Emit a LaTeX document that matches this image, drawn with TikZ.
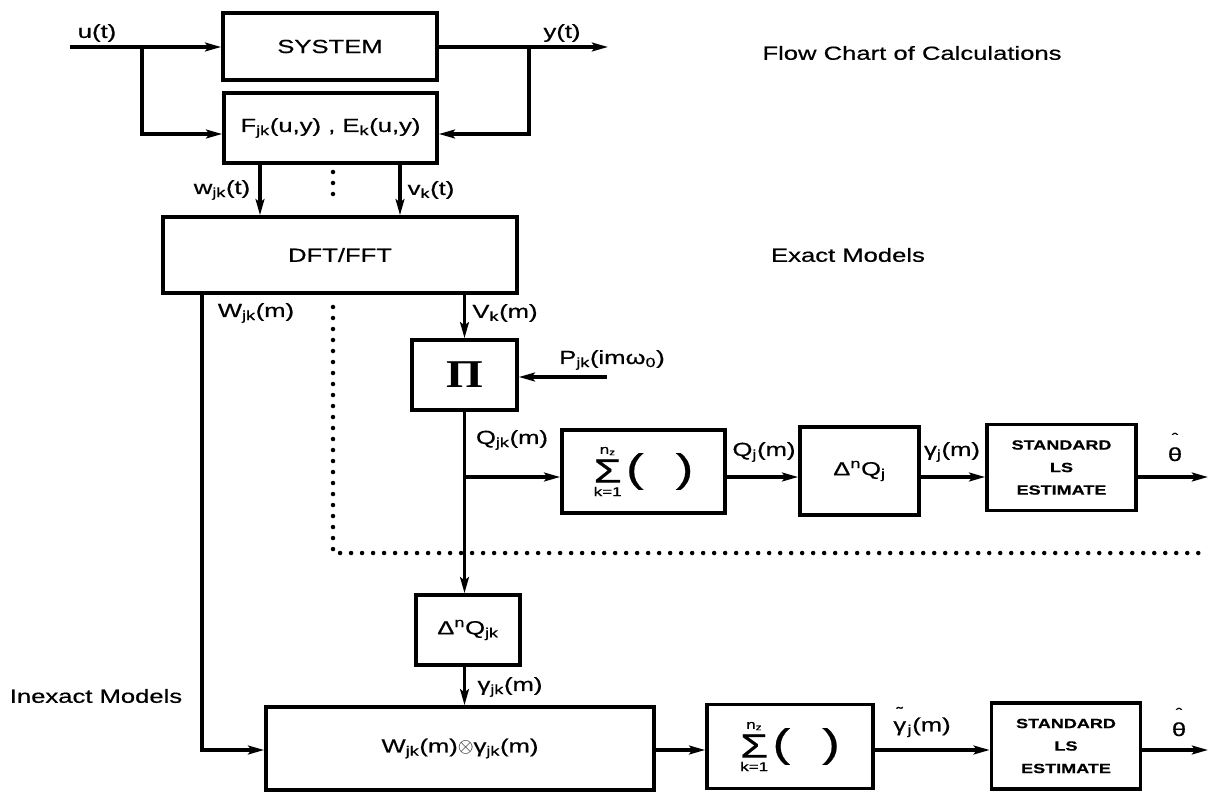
\documentclass[tikz,border=0pt]{standalone}
\usepackage{amsmath}
\usepackage{fontspec}
\setmainfont{Liberation Sans}[FakeStretch=1.35, FakeBold=0.6]
\newfontfamily\prodfont{Liberation Serif}[FakeStretch=1.2]
\usetikzlibrary{arrows.meta}

\newlength\px
\setlength\px{0.025cm}
\newcommand\sumop{$\vcenter{\hbox{\shortstack{\fontsize{9}{9}\selectfont n\textsubscript{z}\\\fontsize{24}{24}\selectfont Σ\\\fontsize{9}{9}\selectfont k=1}}}\hspace{3pt}%
  \vcenter{\hbox{\fontsize{28}{28}\selectfont(\hspace{32\px})}}$}
\newcommand\hatth{\shortstack{\fontsize{10}{10}\selectfont ˆ\\θ}}
\newcommand\tilgam{\shortstack{\fontsize{10}{10}\selectfont ˜\\γ}}

\begin{document}
\begin{tikzpicture}[x=0.025cm, y=-0.025cm,
  block/.style={draw, line width=2.6pt, inner sep=0pt, align=center, font=\fontsize{13.5}{16}\selectfont},
  lsbox/.style={block, minimum width=3.725cm, minimum height=2.15cm, font=\bfseries\fontsize{9.5}{16}\selectfont},
  lbl/.style={inner sep=0pt, font=\fontsize{13.5}{16}\selectfont},
  flow/.style={line width=2.2pt, -{Stealth[length=0.4cm, width=0.22cm, inset=0.08cm]}},
  divider/.style={line width=3.2pt, line cap=round, dash pattern=on 0pt off 0.275cm}]

% Background
\fill[white] (0,0) rectangle (1208,793);
\useasboundingbox (0,0) rectangle (1208,793);

% Titles
\node[lbl] (title) at (912,53) {Flow Chart of Calculations};
\node[lbl] (exact) at (848,255) {Exact Models};
\node[lbl] (inexact) at (96,696) {Inexact Models};

% Blocks
\node[block, minimum width=5.35cm, minimum height=1.675cm] (sys) at (330,46.5) {SYSTEM};
\node[block, minimum width=5.325cm, minimum height=1.75cm] (est) at (330.5,128) {F\textsubscript{jk}(u,y) , E\textsubscript{k}(u,y)};
\node[block, minimum width=8.85cm, minimum height=1.9cm] (dft) at (340,255) {DFT/FFT};
\node[block, minimum width=2.625cm, minimum height=1.75cm, font=\prodfont\bfseries\fontsize{28}{30}\selectfont] (prod) at (464.5,375) {Π};
\node[block, minimum width=4.075cm, minimum height=2.075cm] (sumA) at (643.5,471.5) {\sumop};
\node[block, minimum width=2.975cm, minimum height=2.2cm] (dqj) at (859.5,471) {Δ\textsuperscript{n}Q\textsubscript{j}};
\node[lsbox] (lsA) at (1061.5,467.5) {STANDARD\\LS\\ESTIMATE};
\node[block, minimum width=2.6cm, minimum height=1.75cm] (dqjk) at (468,630) {Δ\textsuperscript{n}Q\textsubscript{jk}};
\node[block, minimum width=9.7cm, minimum height=2.075cm] (conv) at (460,748.5) {W\textsubscript{jk}(m)$\otimes$γ\textsubscript{jk}(m)};
\node[block, minimum width=4.15cm, minimum height=2.1cm] (sumB) at (790,746.5) {\sumop};
\node[lsbox] (lsB) at (1066,746) {STANDARD\\LS\\ESTIMATE};

% Signal labels
\node[lbl] (ulab) at (97,33) {u(t)};
\node[lbl] (ylab) at (562,33) {y(t)};
\node[lbl] (wlab) at (222,190) {w\textsubscript{jk}(t)};
\node[lbl] (vlab) at (431,190) {v\textsubscript{k}(t)};
\node[lbl] (Wlab) at (256,313) {W\textsubscript{jk}(m)};
\node[lbl] (Vlab) at (505,313) {V\textsubscript{k}(m)};
\node[lbl] (Plab) at (612,360) {P\textsubscript{jk}(imω\textsubscript{0})};
\node[lbl] (Qlab) at (512,440) {Q\textsubscript{jk}(m)};
\node[lbl] (Qjlab) at (764,452) {Q\textsubscript{j}(m)};
\node[lbl] (gjlab) at (952,452) {γ\textsubscript{j}(m)};
\node[lbl] (thA) at (1175,447) {\hatth};
\node[lbl] (gjklab) at (510,687) {γ\textsubscript{jk}(m)};
\node[lbl] (gtlab) at (922,722) {\tilgam\hspace{1pt}\textsubscript{j}(m)};
\node[lbl] (thB) at (1179,722) {\hatth};

% Fixed points
\coordinate (uin) at (70,47);
\coordinate (usplit) at (142,47);
\coordinate (yout) at (608,47);
\coordinate (ysplit) at (529,47);
\coordinate (fbrow) at (0,134);
\coordinate (wcol) at (260,0);
\coordinate (vcol) at (400,0);
\coordinate (Wcol) at (202,0);
\coordinate (pin) at (607,377);
\coordinate (rowA) at (0,477);
\coordinate (rowB) at (0,750);
\coordinate (outA) at (1208,477);
\coordinate (outB) at (1208,750);

% Connectors
\draw[flow] (uin) -- (uin -| sys.west);
\draw[flow] (usplit) |- (est.west |- fbrow);
\draw[flow] (yout -| sys.east) -- (yout);
\draw[flow] (ysplit) |- (est.east |- fbrow);
\draw[flow] (est.south -| wcol) -- (dft.north -| wcol);
\draw[flow] (est.south -| vcol) -- (dft.north -| vcol);
\draw[flow] (dft.south -| Wcol) |- (conv.west |- rowB);
\draw[flow] (prod.north |- dft.south) -- (prod.north);
\draw[flow] (pin) -- (pin -| prod.east);
\draw[flow] (prod.south) -- (prod.south |- dqjk.north);
\draw[flow] (prod.south |- rowA) -- (sumA.west |- rowA);
\draw[flow] (sumA.east |- rowA) -- (dqj.west |- rowA);
\draw[flow] (dqj.east |- rowA) -- (lsA.west |- rowA);
\draw[flow] (lsA.east |- rowA) -- (outA);
\draw[flow] (dqjk.south -| prod.south) -- (conv.north -| prod.south);
\draw[flow] (conv.east |- rowB) -- (sumB.west |- rowB);
\draw[flow] (sumB.east |- rowB) -- (lsB.west |- rowB);
\draw[flow] (lsB.east |- rowB) -- (outB);

% Dotted dividers
\draw[divider] (333,172) -- (333,205);
\draw[divider] (333,307) -- (333,553) -- (1208,553);

\end{tikzpicture}
\end{document}
